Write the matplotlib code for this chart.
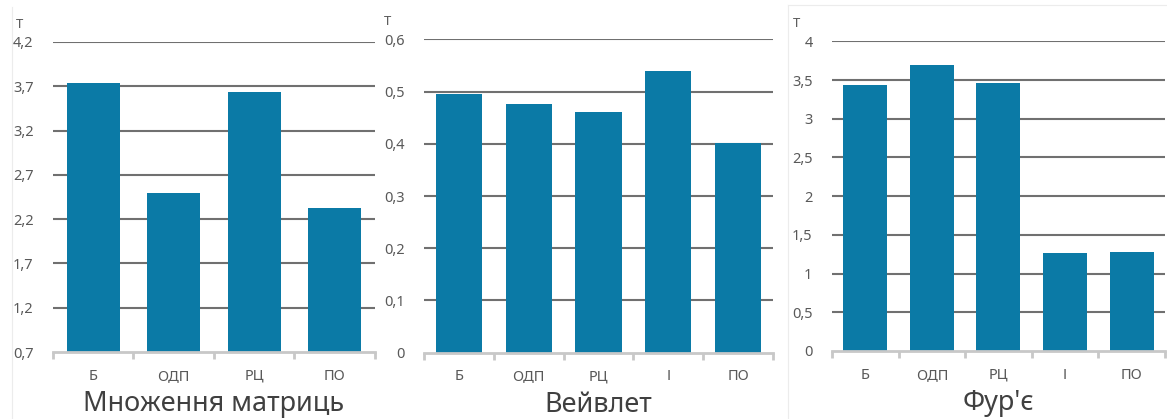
import matplotlib.pyplot as plt
from matplotlib.lines import Line2D
from matplotlib.ticker import FuncFormatter

plt.rcParams['font.family'] = ['Noto Sans', 'DejaVu Sans']

# values per method
matrix_labels = ['Б', 'ОДП', 'РЦ', 'ПО']
matrix_values = [3.74, 2.49, 3.64, 2.33]

wavelet_labels = ['Б', 'ОДП', 'РЦ', 'І', 'ПО']
wavelet_values = [0.495, 0.477, 0.460, 0.539, 0.401]

fourier_labels = ['Б', 'ОДП', 'РЦ', 'І', 'ПО']
fourier_values = [3.44, 3.69, 3.46, 1.26, 1.28]

bar_color = '#0b7aa6'
grid_color = '#707070'
text_color = '#595959'

fig = plt.figure(figsize=(11.67, 4.19), dpi=100)

# faint chart-area borders
W, H = 1167, 419
border = '#ececec'
fig.add_artist(Line2D([12 / W, 12 / W], [0, 1 - 7 / H], color=border, lw=0.8))
fig.add_artist(Line2D([788 / W, 788 / W], [0, 1 - 5 / H], color=border, lw=0.8))
fig.add_artist(Line2D([788 / W, 1], [1 - 5 / H, 1 - 5 / H], color=border, lw=0.8))

panels = [
    ([0.0454, 0.1599, 0.2759, 0.7399], matrix_labels, matrix_values,
     (0.7, 4.2), [0.7 + 0.5 * i for i in range(8)], 'Множення матриць', 0.036),
    ([0.3633, 0.1582, 0.2991, 0.7480], wavelet_labels, wavelet_values,
     (0, 0.6), [0.1 * i for i in range(7)], 'Вейвлет', 0.034),
    ([0.7129, 0.1623, 0.2853, 0.7391], fourier_labels, fourier_values,
     (0, 4), [0.5 * i for i in range(9)], "Фур'є", 0.039),
]


def comma_fmt(v, pos):
    s = ('%.2f' % v).rstrip('0').rstrip('.')
    return s.replace('.', ',')


for rect, labels, values, ylim, ticks, title, title_y in panels:
    ax = fig.add_axes(rect)
    x = range(len(labels))
    ax.bar(x, values, width=0.66, color=bar_color, zorder=3)
    ax.set_xlim(-0.5, len(labels) - 0.5)
    ax.set_ylim(*ylim)
    ax.set_yticks(ticks)
    ax.yaxis.set_major_formatter(FuncFormatter(comma_fmt))
    for t in ticks[1:]:
        ax.axhline(t, color=grid_color, lw=1.5, zorder=1)
    for side in ['top', 'right', 'left']:
        ax.spines[side].set_visible(False)
    ax.spines['bottom'].set_color('#c8c8c8')
    ax.spines['bottom'].set_linewidth(2)
    ax.spines['bottom'].set_zorder(4)
    ax.tick_params(axis='y', length=0, labelsize=10.5, labelcolor=text_color, pad=14)
    # category ticks sit between bars
    ax.set_xticks([i - 0.5 for i in range(len(labels) + 1)], minor=False)
    ax.set_xticklabels([])
    ax.tick_params(axis='x', which='major', length=5, width=2, color='#c8c8c8')
    ax.set_xticks(list(x), minor=True)
    ax.set_xticklabels(labels, minor=True)
    ax.tick_params(axis='x', which='minor', length=0, labelsize=10.5,
                   labelcolor=text_color, pad=12)
    ax.text(-0.105, 1.035, 'Т', transform=ax.transAxes, fontsize=9.5,
            color=text_color, ha='center', va='bottom')
    fig.text(rect[0] + rect[2] / 2, title_y, title, fontsize=19.5,
             color='#404040', ha='center', va='center')

fig.savefig('out.png', dpi=100, facecolor='white')
